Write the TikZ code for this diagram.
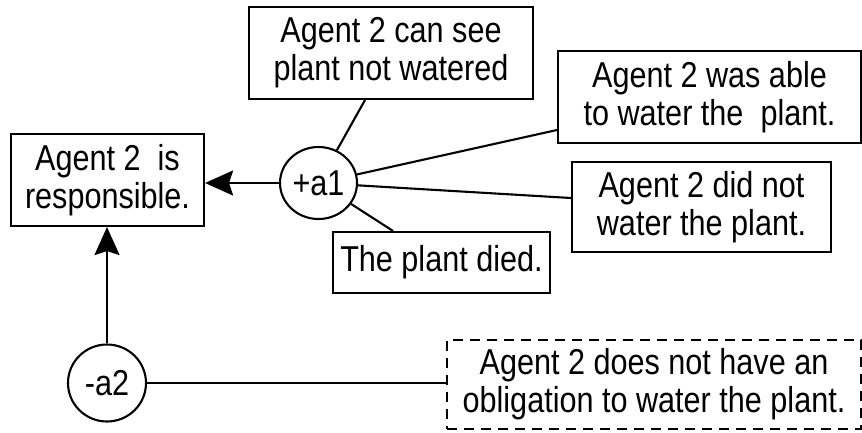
\documentclass[tikz,border=0pt]{standalone}
\usepackage{fontspec}
\setmainfont{Liberation Sans}[FakeStretch=0.85]
\usetikzlibrary{arrows.meta,shapes.geometric}
\begin{document}
\begin{tikzpicture}[x=1pt,y=-1pt,
  every node/.style={font=\fontsize{36}{38}\selectfont, align=center, inner sep=0pt},
  box/.style={draw, line width=2.1pt, rectangle},
  dbox/.style={box, dashed, dash pattern=on 10pt off 7pt},
  arg/.style={draw, line width=2.1pt, ellipse},
  link/.style={line width=2.1pt},
  arr/.style={link, -{Stealth[length=28pt,width=25pt,inset=4pt]}}]
\useasboundingbox (0,0) rectangle (862,432);
\node[box, minimum width=193pt, minimum height=92pt] (resp) at (107.5,180) {Agent 2~ is\\responsible.};
\node[box, minimum width=284pt, minimum height=92pt] (cansee) at (391,53) {Agent 2 can see\\plant not watered};
\node[box, minimum width=303pt, minimum height=92pt] (wasable) at (709.5,97) {Agent 2 was able\\to water the~ plant.};
\node[box, minimum width=259pt, minimum height=90pt] (didnot) at (701.5,207) {Agent 2 did not\\water the plant.};
\node[box, minimum width=217pt, minimum height=61pt] (died) at (441.5,262.5) {The plant died.};
\node[dbox, minimum width=414pt, minimum height=89pt] (oblig) at (654,384.5) {Agent 2 does not have an\\obligation to water the plant.};
\node[arg, minimum width=77pt, minimum height=72pt] (a1) at (318.5,183) {+a1};
\node[arg, minimum width=78pt, minimum height=77pt] (a2) at (107,383) {-a2};
\draw[arr] (a1.west) -- (resp.east |- a1.west);
\draw[arr] (a2.north) -- (resp.south -| a2.north);
\draw[link] (a1) -- ([xshift=-26pt]cansee.south);
\draw[link] (a1) -- ([yshift=-33pt]wasable.west);
\draw[link] (a1) -- ([yshift=9pt]didnot.west);
\draw[link] (a1) -- ([xshift=-48.5pt]died.north);
\draw[link] (a2.east) -- (oblig.west |- a2.east);
\end{tikzpicture}
\end{document}
